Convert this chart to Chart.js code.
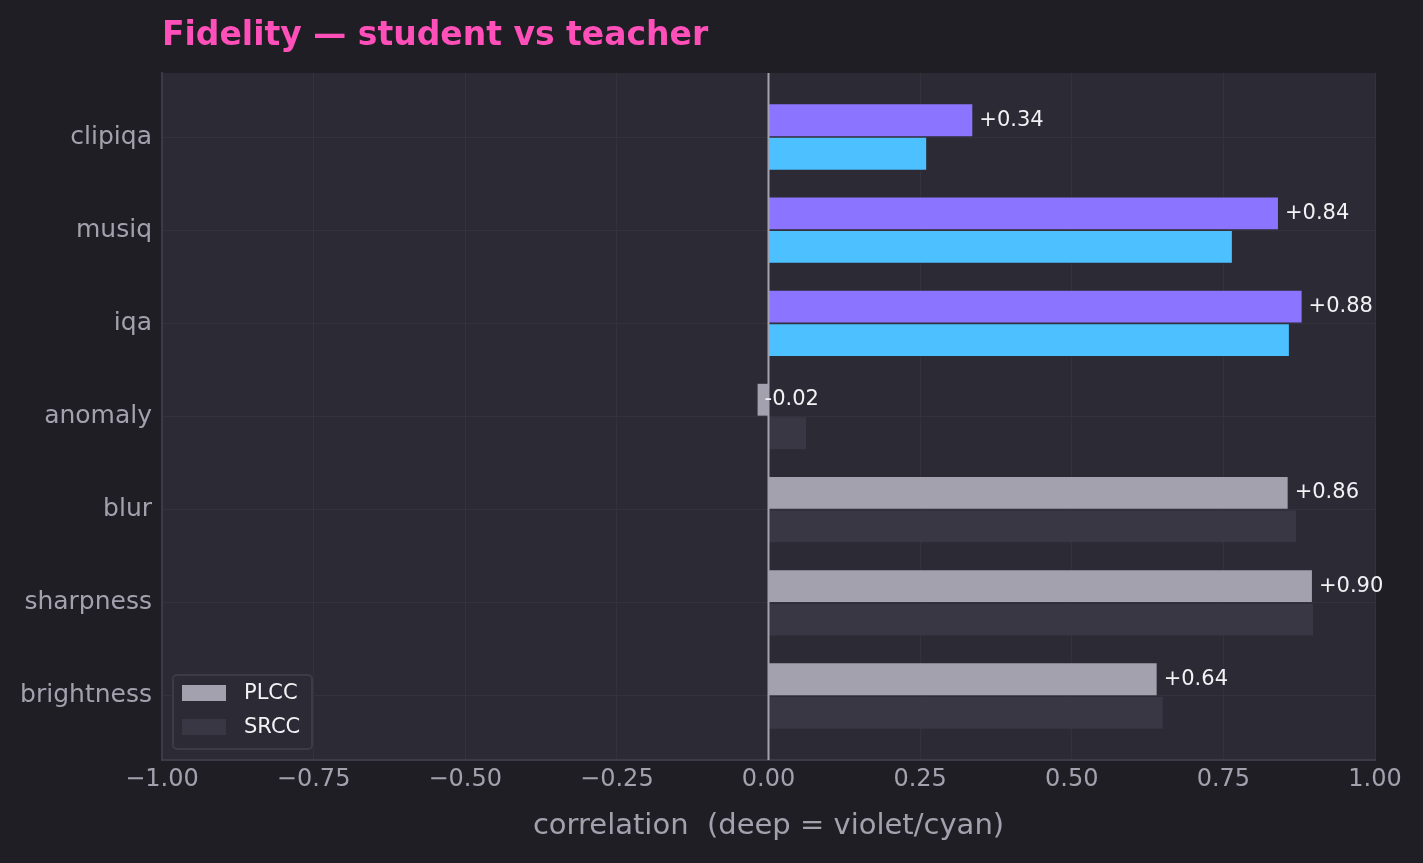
<!DOCTYPE html>
<html>
<head>
<meta charset="utf-8">
<title>Fidelity — student vs teacher</title>
<script src="https://cdn.jsdelivr.net/npm/chart.js@4.4.1/dist/chart.umd.min.js"></script>
<style>
  html, body { margin: 0; padding: 0; background: #1f1e24; }
  #wrap { width: 1423px; height: 863px; position: relative; }
</style>
</head>
<body>
<div id="wrap"><canvas id="chartFidelity"></canvas></div>
<script>
/* ---------- DATA ---------- */
const CATEGORIES = ['clipiqa', 'musiq', 'iqa', 'anomaly', 'blur', 'sharpness', 'brightness'];
const DEEP       = [true, true, true, false, false, false, false];
const PLCC       = [0.336, 0.840, 0.879, -0.018, 0.856, 0.896, 0.640];
const SRCC       = [0.260, 0.764, 0.858, 0.062, 0.870, 0.898, 0.650];
const X_TICKS    = [-1, -0.75, -0.5, -0.25, 0, 0.25, 0.5, 0.75, 1];

const COLORS = {
  page:    '#1f1e24',
  plot:    '#2c2a35',
  grid:    '#34323e',
  spine:   '#3d3b48',
  text:    '#a3a1ae',
  white:   '#f2f2f5',
  pink:    '#ff4fb9',
  violet:  '#8b74ff',
  cyan:    '#4dc1ff',
  plcc:    '#a3a1ae',
  srcc:    '#393744'
};
const FONT = 'DejaVu Sans';
const Y_PAD = 0.687;   // extra room above first / below last category

/* ---------- PLUGINS ---------- */
const plotBg = {
  id: 'plotBg',
  beforeDraw(chart) {
    const { ctx, chartArea: a } = chart;
    ctx.save();
    ctx.fillStyle = COLORS.plot;
    ctx.fillRect(a.left, a.top, a.right - a.left, a.bottom - a.top);
    ctx.restore();
  }
};

const overlay = {
  id: 'overlay',
  afterDatasetsDraw(chart) {
    const { ctx, chartArea: a, scales } = chart;
    ctx.save();

    // zero line
    const x0 = scales.x.getPixelForValue(0);
    ctx.strokeStyle = COLORS.text;
    ctx.lineWidth = 2;
    ctx.beginPath();
    ctx.moveTo(x0, a.top);
    ctx.lineTo(x0, a.bottom);
    ctx.stroke();

    // value labels (PLCC)
    ctx.font = `21px "${FONT}"`;
    ctx.fillStyle = COLORS.white;
    ctx.textAlign = 'left';
    ctx.textBaseline = 'middle';
    chart.getDatasetMeta(0).data.forEach((bar, i) => {
      const v = PLCC[i];
      const txt = (v >= 0 ? '+' : '') + v.toFixed(2);
      ctx.fillText(txt, bar.x + 7, bar.y);
    });

    // legend
    const lx = a.left + 11, ly = a.bottom - 85, lw = 139, lh = 74;
    ctx.fillStyle = COLORS.plot;
    ctx.strokeStyle = COLORS.spine;
    ctx.lineWidth = 2;
    ctx.beginPath();
    ctx.roundRect(lx, ly, lw, lh, 4);
    ctx.fill();
    ctx.stroke();
    const items = [['PLCC', COLORS.plcc], ['SRCC', COLORS.srcc]];
    items.forEach(([label, color], k) => {
      const cy = ly + 18 + k * 34;
      ctx.fillStyle = color;
      ctx.fillRect(lx + 9, cy - 8, 44, 16);
      ctx.fillStyle = COLORS.white;
      ctx.fillText(label, lx + 71, cy + 1);
    });

    // title
    ctx.font = `bold 33px "${FONT}"`;
    ctx.fillStyle = COLORS.pink;
    ctx.textBaseline = 'alphabetic';
    ctx.fillText('Fidelity — student vs teacher', a.left, 45);

    ctx.restore();
  }
};

/* ---------- CHART ---------- */
const fmtTick = v => (v < 0 ? '\u2212' : '') + Math.abs(v).toFixed(2);

new Chart(document.getElementById('chartFidelity'), {
  type: 'bar',
  data: {
    datasets: [
      {
        label: 'PLCC',
        data: PLCC.map((v, i) => ({ x: v, y: i })),
        backgroundColor: DEEP.map(d => d ? COLORS.violet : COLORS.plcc),
        borderWidth: 0
      },
      {
        label: 'SRCC',
        data: SRCC.map((v, i) => ({ x: v, y: i })),
        backgroundColor: DEEP.map(d => d ? COLORS.cyan : COLORS.srcc),
        borderWidth: 0
      }
    ]
  },
  options: {
    indexAxis: 'y',
    responsive: true,
    maintainAspectRatio: false,
    animation: false,
    categoryPercentage: 0.72,
    barPercentage: 0.95,
    layout: { padding: { top: 73, right: 48, bottom: 0, left: 0 } },
    plugins: {
      legend: { display: false },
      tooltip: { enabled: false }
    },
    scales: {
      x: {
        type: 'linear',
        position: 'bottom',
        bounds: 'data',
        afterDataLimits: s => { s.min = -1; s.max = 1; },
        afterBuildTicks: axis => { axis.ticks = X_TICKS.map(v => ({ value: v })); },
        afterFit: scale => { scale.height = 103; },
        ticks: {
          callback: v => fmtTick(v),
          color: COLORS.text,
          font: { family: FONT, size: 24 },
          padding: 5,
          maxRotation: 0
        },
        grid: { color: COLORS.grid, lineWidth: 1, drawTicks: false },
        border: { display: true, color: COLORS.spine, width: 2 },
        title: {
          display: true,
          text: 'correlation  (deep = violet/cyan)',
          color: COLORS.text,
          font: { family: FONT, size: 29 },
          padding: { top: 0, bottom: 19 }
        }
      },
      y: {
        type: 'linear',
        reverse: true,
        offset: false,
        bounds: 'data',
        afterDataLimits: s => { s.min = -Y_PAD; s.max = CATEGORIES.length - 1 + Y_PAD; },
        afterBuildTicks: axis => { axis.ticks = CATEGORIES.map((_, i) => ({ value: i })); },
        afterFit: scale => { scale.width = 162; },
        ticks: {
          callback: v => CATEGORIES[v],
          color: COLORS.text,
          font: { family: FONT, size: 25 },
          padding: 10
        },
        grid: { color: COLORS.grid, lineWidth: 1, drawTicks: false, offset: false },
        border: { display: true, color: COLORS.spine, width: 2 }
      }
    }
  },
  plugins: [plotBg, overlay]
});
</script>
</body>
</html>
